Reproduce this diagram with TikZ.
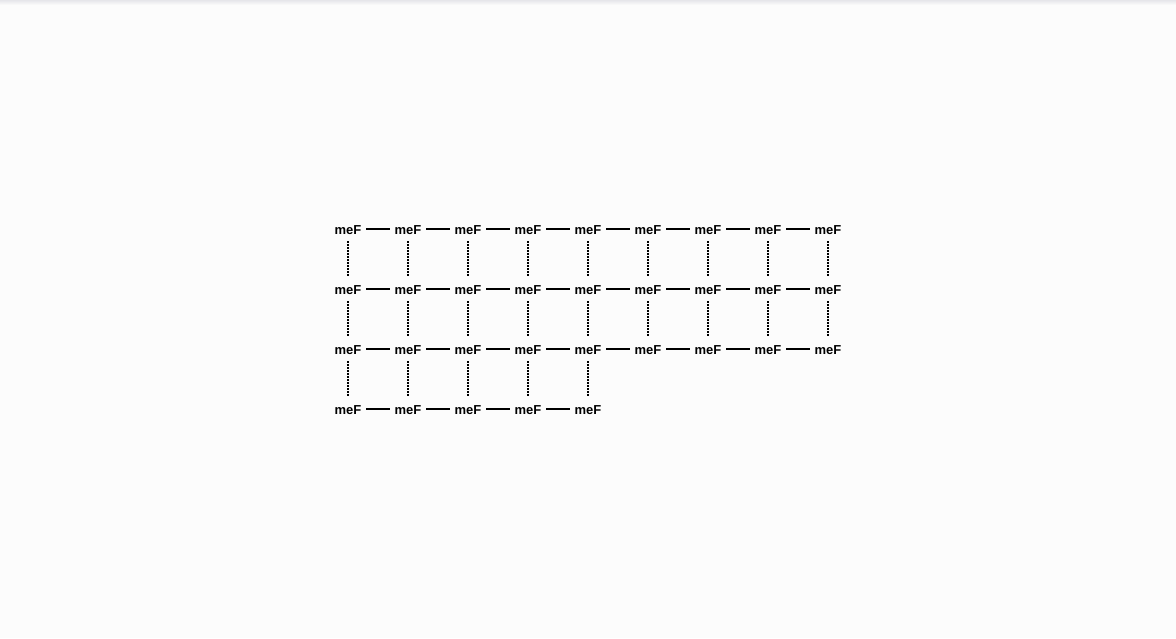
\documentclass[tikz,border=0pt]{standalone}
\usepackage{fontspec}
\setmainfont{Liberation Sans}
\definecolor{bg}{HTML}{FCFCFC}
\definecolor{topshade}{HTML}{E6E6EA}
\begin{document}
\begin{tikzpicture}[x=1pt,y=-1pt,
  fnode/.style={inner sep=0pt, minimum width=36pt, minimum height=24pt, font=\fontsize{13}{15}\selectfont\bfseries},
  hlink/.style={draw=black, line width=1.4pt},
  vlink/.style={draw=black, line width=1.5pt, dash pattern=on 1.5pt off 1.5pt}]
\fill[bg] (0,0) rectangle (1176,638);
\shade[top color=topshade, bottom color=bg] (0,0) rectangle (1176,5);
\useasboundingbox (0,0) rectangle (1176,638);
% rows 1-3 with 9 columns, row 4 with 5 columns
\foreach \r/\n in {1/9,2/9,3/9,4/5}{
  \foreach \c in {1,...,\n}{
    \node[fnode] (n\r-\c) at ({348+60*(\c-1)},{230+60*(\r-1)}) {meF};
  }
}
\foreach \r/\n in {1/8,2/8,3/8,4/4}{
  \foreach \c [evaluate=\c as \d using int(\c+1)] in {1,...,\n}{
    \draw[hlink] ([yshift=1pt]n\r-\c.east) -- ([yshift=1pt]n\r-\d.west);
  }
}
\foreach \r/\n in {1/9,2/9,3/5}{
  \foreach \c [evaluate=\r as \s using int(\r+1)] in {1,...,\n}{
    \draw[vlink] ([yshift=1pt]n\r-\c.south) -- ([yshift=2pt]n\s-\c.north);
  }
}
\end{tikzpicture}
\end{document}
